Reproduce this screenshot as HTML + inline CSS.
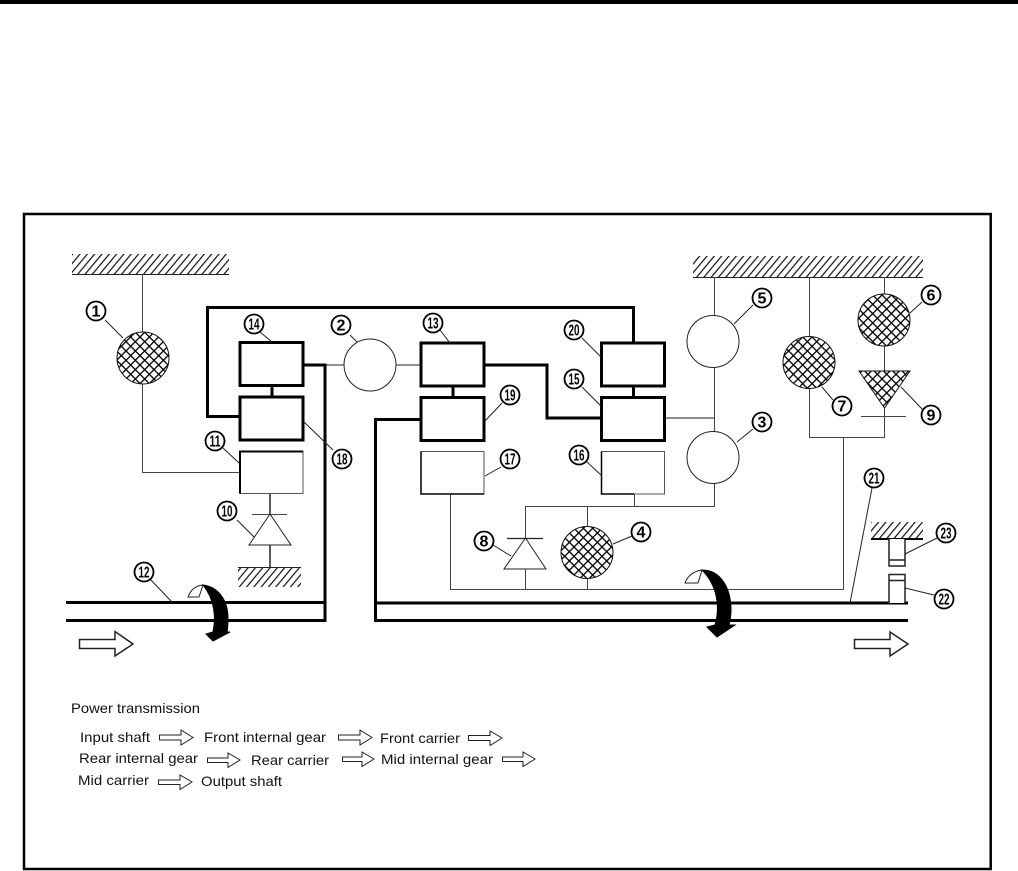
<!DOCTYPE html>
<html><head><meta charset="utf-8"><style>
html,body{margin:0;padding:0;background:#fff;width:1018px;height:871px;overflow:hidden}
svg{display:block}
text{font-family:"Liberation Sans",sans-serif;fill:#111}
.t{font-size:14px}
.n{font-size:16px;font-weight:bold;text-anchor:middle;fill:#000}
.l{stroke:#222;stroke-width:1;fill:none}
.g{stroke:#444;stroke-width:1;fill:none}
.b{stroke:#000;stroke-width:3;fill:none}
.m{stroke:#000;stroke-width:3;fill:none}
.c{fill:#fff;stroke:#222;stroke-width:1}
.x{fill:url(#cross);stroke:#111;stroke-width:1}
.lab{fill:#fff;stroke:#000;stroke-width:1.800}
</style></head><body>
<svg width="1018" height="871" viewBox="0 0 1018 871" xmlns="http://www.w3.org/2000/svg">
<defs>
<pattern id="cross" width="6.6" height="6.6" patternUnits="userSpaceOnUse" patternTransform="rotate(45)">
<rect width="6.6" height="6.6" fill="#fff"/>
<path d="M0 0H6.6M0 0V6.6" stroke="#000" stroke-width="2.600"/>
</pattern>
<pattern id="hatch" width="5.6" height="5.6" patternUnits="userSpaceOnUse" patternTransform="rotate(-50)">
<rect width="5.6" height="5.6" fill="#fff"/>
<path d="M0 0H5.6" stroke="#111" stroke-width="2.400"/>
</pattern>
</defs>
<rect x="0" y="0" width="1018" height="4" fill="#000"/>
<rect x="24" y="214" width="966.7" height="655" fill="none" stroke="#000" stroke-width="2.500"/>

<!-- hatched grounds -->
<rect x="72" y="254" width="157" height="20" fill="url(#hatch)"/><path d="M72 274.500H229" class="l"/>
<rect x="693" y="256" width="230" height="21" fill="url(#hatch)"/><path d="M693 277.500H923" class="l"/>
<rect x="238" y="567" width="63" height="20" fill="url(#hatch)"/><path d="M238 567.500H301" class="l"/>
<rect x="871" y="522" width="52" height="17" fill="url(#hatch)"/><path d="M871 539H923" stroke="#000" stroke-width="2"/>

<!-- thin wires -->
<path d="M142.500 274V332M142.500 384V472.500H240" class="g"/>
<path d="M325 365H344M396 365H421" class="l"/>
<path d="M270 493V514M270 545V567" stroke="#222" stroke-width="1.500"/>
<path d="M665 418H714" class="l"/>
<path d="M714.500 277V316M714.500 368V432M714.500 484V506.500H525.500V538M525.500 569V589.500" class="g"/>
<path d="M587.500 506V527M587.500 579V589M634.500 494V506" class="g"/>
<path d="M450.500 494V589.500H843.500V437" class="g"/>
<path d="M809.500 277V337M809.500 389V437.500H884.500V408M884.500 277V295M884.500 346V372" class="g"/>
<path d="M861 416.500H906" class="g"/>
<path d="M252 514.500H287" class="g"/>
<path d="M507 538.500H543" stroke="#222" stroke-width="1.200"/>

<!-- thick conductors -->
<path d="M240 416.500H207.500V307.500H633.500V343" class="b"/>
<path d="M303 365H325V620.500H66" class="b"/>
<path d="M66 602.500H325" class="b"/>
<path d="M421 419.500H375.500V620.500H908" class="b"/>
<path d="M375 603H908" class="b"/>
<path d="M484 365H547V418H601" class="b"/>
<path d="M272 386V397M453 386V398M633.500 386V398" class="b"/>

<!-- boxes -->
<rect x="240" y="342.500" width="63" height="43" fill="#fff" class="m"/>
<rect x="240" y="397" width="63" height="43" fill="#fff" class="m"/>
<rect x="421" y="343" width="63" height="43" fill="#fff" class="m"/>
<rect x="421" y="397.500" width="63" height="43" fill="#fff" class="m"/>
<rect x="601.500" y="343" width="63" height="43" fill="#fff" class="m"/>
<rect x="601.500" y="397.500" width="63" height="43" fill="#fff" class="m"/>
<rect x="240" y="451" width="63" height="42.500" fill="#fff" stroke="#555" stroke-width="1"/>
<path d="M303 451.500H240V493.500" stroke="#000" stroke-width="2" fill="none"/>
<rect x="421" y="451.500" width="63" height="42.500" fill="#fff" stroke="#555" stroke-width="1"/>
<path d="M421 451.500V494H484" stroke="#000" stroke-width="1.500" fill="none"/>
<rect x="601.500" y="451.500" width="63" height="42.500" fill="#fff" stroke="#555" stroke-width="1"/>
<path d="M601.500 451.500V494H634" stroke="#000" stroke-width="1.500" fill="none"/>

<!-- part 22/23 -->
<path d="M889 539V566H905V539M889 560H905" fill="#fff" stroke="#222" stroke-width="1.500"/>
<path d="M889 603V574.500H905V603M889 580.500H905" fill="#fff" stroke="#222" stroke-width="1.500"/>

<!-- circles -->
<circle cx="143" cy="358" r="26" class="x"/>
<circle cx="370" cy="365" r="26" class="c"/>
<circle cx="713" cy="341.500" r="26" class="c"/>
<circle cx="713" cy="457.500" r="26" class="c"/>
<circle cx="587" cy="552.500" r="26" class="x"/>
<circle cx="809" cy="362.500" r="26" class="x"/>
<circle cx="884" cy="320" r="26" class="x"/>

<!-- diodes -->
<path d="M270 514L249 545H291Z" class="c"/>
<path d="M525.500 538L504 569H546Z" class="c"/>
<path d="M859 371H910L884.500 408Z" class="x"/>

<!-- leaders -->
<g class="l">
<path d="M105 320L123 338M260 332L272 342M350 335L357 342M223 448L239 463M304 422L333 450M237 520L254 537M150 579L172 602"/>
<path d="M440 330L450 343M582 338L601 357M582 387L601 406M502 403L485 421M501 467L485 476M587 462L601 475M493 545L511 556M632 536L613 544"/>
<path d="M753 305L734 324M753 429L737 442M922 302L910 313M833 400L822 387M923 410L901 387M872 488L850 603M937 538L905 554M934 595L905 588"/>
</g>

<!-- number labels -->
<g>
<circle cx="96" cy="311" r="9.500" class="lab"/><text class="n" x="96" y="316.500">1</text>
<circle cx="254" cy="324" r="9.500" class="lab"/><text class="n" x="254" y="329.500" textLength="11" lengthAdjust="spacingAndGlyphs">14</text>
<circle cx="341" cy="325" r="9.500" class="lab"/><text class="n" x="341" y="330.500">2</text>
<circle cx="215" cy="441" r="9.500" class="lab"/><text class="n" x="215" y="446.500" textLength="11" lengthAdjust="spacingAndGlyphs">11</text>
<circle cx="342" cy="459" r="9.500" class="lab"/><text class="n" x="342" y="464.500" textLength="11" lengthAdjust="spacingAndGlyphs">18</text>
<circle cx="227" cy="511" r="9.500" class="lab"/><text class="n" x="227" y="516.500" textLength="11" lengthAdjust="spacingAndGlyphs">10</text>
<circle cx="144" cy="572" r="9.500" class="lab"/><text class="n" x="144" y="577.500" textLength="11" lengthAdjust="spacingAndGlyphs">12</text>
<circle cx="433" cy="323" r="9.500" class="lab"/><text class="n" x="433" y="328.500" textLength="11" lengthAdjust="spacingAndGlyphs">13</text>
<circle cx="574" cy="330" r="9.500" class="lab"/><text class="n" x="574" y="335.500" textLength="11" lengthAdjust="spacingAndGlyphs">20</text>
<circle cx="574" cy="379" r="9.500" class="lab"/><text class="n" x="574" y="384.500" textLength="11" lengthAdjust="spacingAndGlyphs">15</text>
<circle cx="510" cy="395" r="9.500" class="lab"/><text class="n" x="510" y="400.500" textLength="11" lengthAdjust="spacingAndGlyphs">19</text>
<circle cx="510" cy="459" r="9.500" class="lab"/><text class="n" x="510" y="464.500" textLength="11" lengthAdjust="spacingAndGlyphs">17</text>
<circle cx="579" cy="455" r="9.500" class="lab"/><text class="n" x="579" y="460.500" textLength="11" lengthAdjust="spacingAndGlyphs">16</text>
<circle cx="484" cy="541" r="9.500" class="lab"/><text class="n" x="484" y="546.500">8</text>
<circle cx="641" cy="532" r="9.500" class="lab"/><text class="n" x="641" y="537.500">4</text>
<circle cx="762" cy="298" r="9.500" class="lab"/><text class="n" x="762" y="303.500">5</text>
<circle cx="931" cy="295" r="9.500" class="lab"/><text class="n" x="931" y="300.500">6</text>
<circle cx="842" cy="406" r="9.500" class="lab"/><text class="n" x="842" y="411.500">7</text>
<circle cx="931" cy="415" r="9.500" class="lab"/><text class="n" x="931" y="420.500">9</text>
<circle cx="762" cy="422" r="9.500" class="lab"/><text class="n" x="762" y="427.500">3</text>
<circle cx="874" cy="478" r="9.500" class="lab"/><text class="n" x="874" y="483.500" textLength="11" lengthAdjust="spacingAndGlyphs">21</text>
<circle cx="946" cy="533" r="9.500" class="lab"/><text class="n" x="946" y="538.500" textLength="11" lengthAdjust="spacingAndGlyphs">23</text>
<circle cx="944" cy="599" r="9.500" class="lab"/><text class="n" x="944" y="604.500" textLength="11" lengthAdjust="spacingAndGlyphs">22</text>
</g>

<!-- rotation arrows -->
<path d="M188 597Q192 586 203 585L199 597Z" fill="#fff" stroke="#222" stroke-width="1"/>
<path d="M203 585C219 587 228 601 228 618C228 624 228 628 227 632L230 632L213 641L206 634L213 632C216 618 215 600 203 585Z" fill="#000" stroke="#000" stroke-width="1"/>
<path d="M685 583Q689 572 702 570L698 583Z" fill="#fff" stroke="#222" stroke-width="1"/>
<path d="M702 570C722 570 731 590 731 610C731 616 730 621 729 625L735 625L717 637L707 627L715 625C720 608 718 586 702 570Z" fill="#000" stroke="#000" stroke-width="1"/>

<!-- big white arrows -->
<path d="M79.500 639.500H115V631.500L133 644L115 656V648.500H79.500Z" fill="#fff" stroke="#222" stroke-width="1.500"/>
<path d="M854.500 639.500H890V632L908 644L890 656V648.500H854.500Z" fill="#fff" stroke="#222" stroke-width="1.500"/>

<!-- legend -->
<text class="t" x="71" y="713" textLength="129" lengthAdjust="spacingAndGlyphs">Power transmission</text>
<text class="t" x="80" y="742" textLength="70" lengthAdjust="spacingAndGlyphs">Input shaft</text>
<text class="t" x="204" y="742" textLength="122" lengthAdjust="spacingAndGlyphs">Front internal gear</text>
<text class="t" x="380" y="743" textLength="80" lengthAdjust="spacingAndGlyphs">Front carrier</text>
<text class="t" x="79" y="763" textLength="119" lengthAdjust="spacingAndGlyphs">Rear internal gear</text>
<text class="t" x="251" y="765" textLength="78" lengthAdjust="spacingAndGlyphs">Rear carrier</text>
<text class="t" x="381" y="764" textLength="112" lengthAdjust="spacingAndGlyphs">Mid internal gear</text>
<text class="t" x="78" y="785" textLength="71" lengthAdjust="spacingAndGlyphs">Mid carrier</text>
<text class="t" x="201" y="786" textLength="81" lengthAdjust="spacingAndGlyphs">Output shaft</text>
<g fill="#fff" stroke="#222" stroke-width="1">
<path d="M159.500 735H181V730L193 737.500L181 745V740H159.500Z"/>
<path d="M338.500 735H360V730L372 737.500L360 745V740H338.500Z"/>
<path d="M468.500 735.500H490V731L502 738L490 745.500V740.500H468.500Z"/>
<path d="M207.500 758H228V753L240 760L228 767.500V762.500H207.500Z"/>
<path d="M342.500 757H362V752L374 759L362 766.500V761.500H342.500Z"/>
<path d="M502.500 757H523V752L535 759L523 766.500V761.500H502.500Z"/>
<path d="M158.500 780H180V775L192 782L180 789.500V784.500H158.500Z"/>
</g>
</svg>
</body></html>
